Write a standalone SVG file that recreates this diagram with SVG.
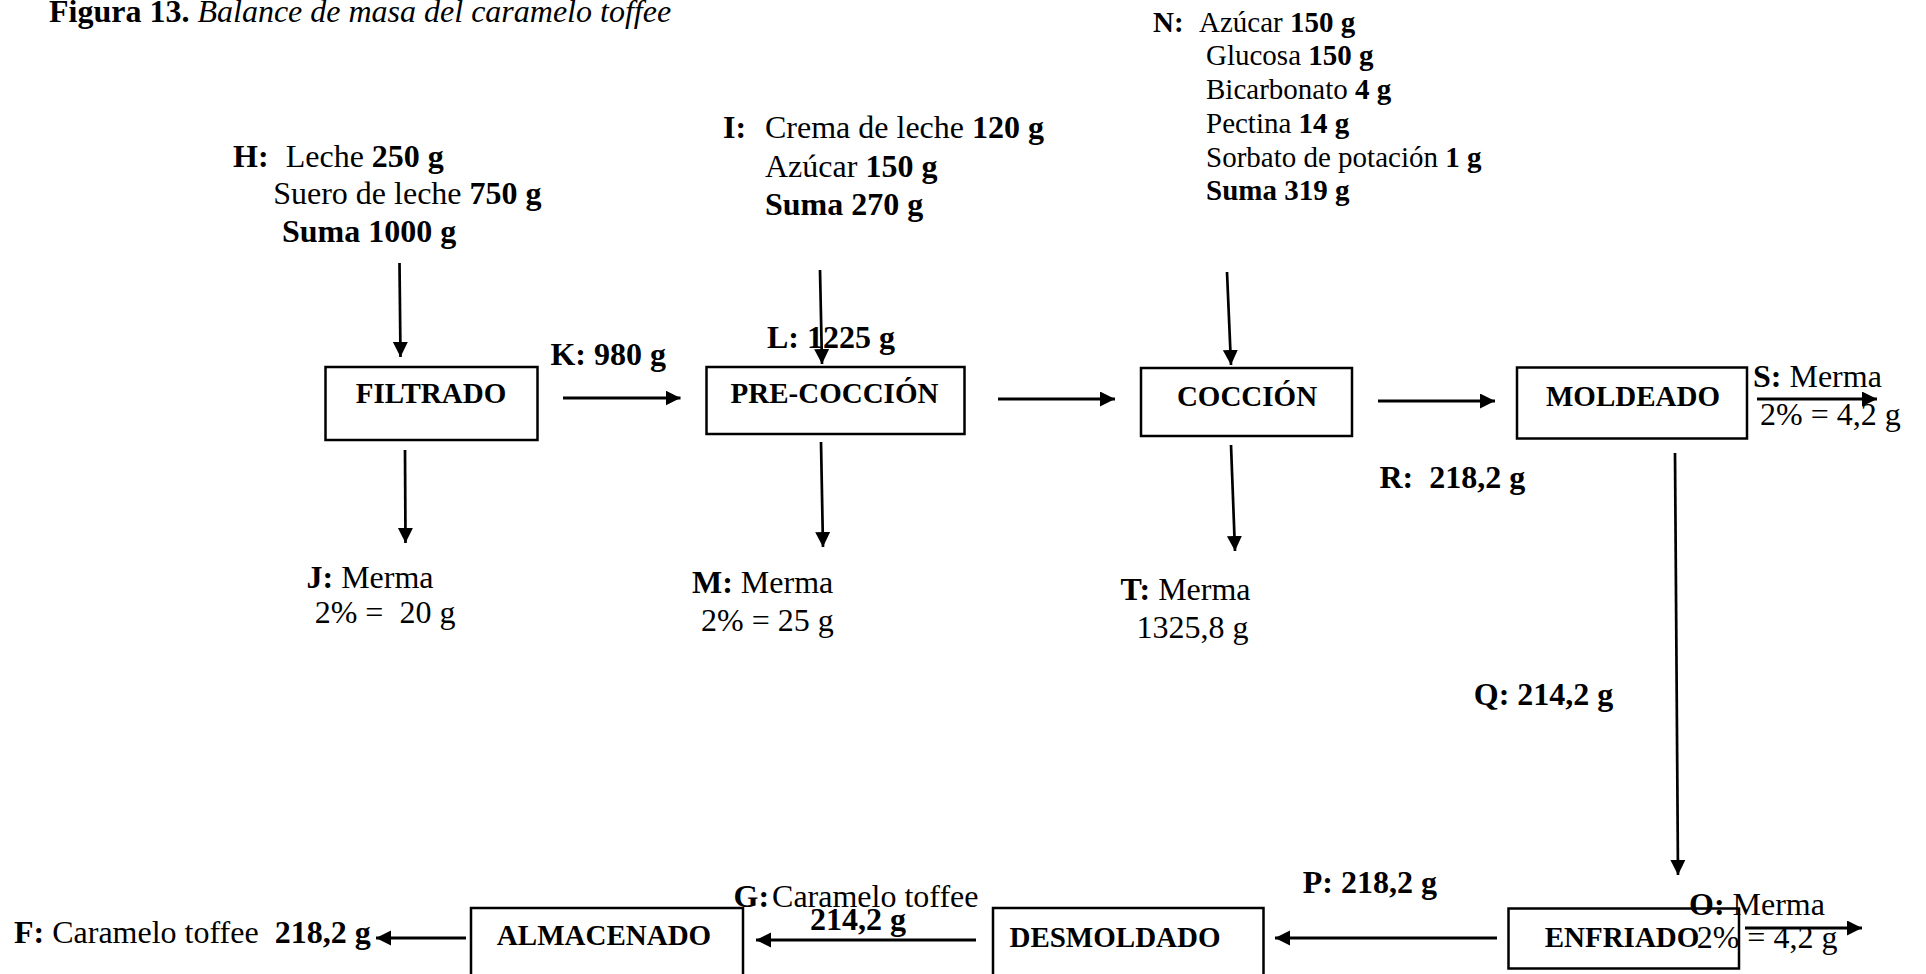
<svg xmlns="http://www.w3.org/2000/svg" width="1926" height="974" viewBox="0 0 1926 974">
<style>
text{font-family:"Liberation Serif","Times New Roman",serif;fill:#000;font-size:32px}
.b{font-weight:bold}
.i{font-style:italic}
.n{font-size:29px}
.box rect{fill:#fff;stroke:#000;stroke-width:2.5}
.box text{font-size:29px;font-weight:bold;text-anchor:middle}
.c line{stroke:#000;stroke-width:3;marker-end:url(#ah)}
.c line.v{stroke-width:2.7}
</style>
<defs>
<marker id="ah" markerUnits="userSpaceOnUse" markerWidth="16" markerHeight="16" refX="15" refY="7.5" orient="auto">
<path d="M0,0 L15,7.5 L0,15 Z" fill="#000"/>
</marker>
</defs>
<rect width="1926" height="974" fill="#fff"/>
<text x="49" y="21.7" xml:space="preserve"><tspan class="b">Figura 13.</tspan> <tspan class="i">Balance de masa del caramelo toffee</tspan></text>

<g id="connectors" class="c">
<line class="v" x1="399.5" y1="263" x2="400.5" y2="357"/>
<line class="v" x1="405" y1="450" x2="405.5" y2="543"/>
<line x1="563" y1="398" x2="680.5" y2="398"/>
<line class="v" x1="820" y1="270" x2="822" y2="364"/>
<line class="v" x1="821" y1="442" x2="823" y2="547"/>
<line x1="998" y1="399" x2="1115" y2="399"/>
<line class="v" x1="1227" y1="272" x2="1231" y2="365"/>
<line class="v" x1="1231" y1="445" x2="1235" y2="551"/>
<line x1="1378" y1="401" x2="1495" y2="401"/>
<line x1="1757" y1="399" x2="1877" y2="399"/>
<line class="v" x1="1675" y1="453" x2="1678" y2="875"/>
<line x1="1745" y1="928" x2="1862" y2="928"/>
<line x1="1497" y1="938" x2="1275" y2="938"/>
<line x1="976" y1="940" x2="756" y2="940"/>
<line x1="466" y1="938" x2="376" y2="938"/>
</g>

<g id="filtrado" class="box"><rect x="325.5" y="367" width="212" height="73"/><text x="431" y="403">FILTRADO</text></g>
<g id="precoccion" class="box"><rect x="706.5" y="367" width="258" height="67"/><text x="834.5" y="403">PRE-COCCIÓN</text></g>
<g id="coccion" class="box"><rect x="1141" y="368" width="211" height="68"/><text x="1247" y="405.7">COCCIÓN</text></g>
<g id="moldeado" class="box"><rect x="1517" y="367.5" width="230" height="71"/><text x="1633" y="405.7">MOLDEADO</text></g>
<g id="enfriado" class="box"><rect x="1508.5" y="908.5" width="230.5" height="60"/><text x="1622" y="946.7">ENFRIADO</text></g>
<g id="desmoldado" class="box"><rect x="993" y="908" width="270.5" height="90"/><text x="1115" y="947">DESMOLDADO</text></g>
<g id="almacenado" class="box"><rect x="471" y="908" width="272" height="90"/><text x="604" y="945">ALMACENADO</text></g>

<g id="label-H">
<text x="233" y="166.7"><tspan class="b">H:</tspan><tspan x="285.7">Leche </tspan><tspan class="b">250 g</tspan></text>
<text x="273.2" y="204">Suero de leche <tspan class="b">750 g</tspan></text>
<text x="282" y="241.7" class="b">Suma 1000 g</text>
</g>
<g id="label-I">
<text x="723" y="138.3"><tspan class="b">I:</tspan><tspan x="765">Crema de leche </tspan><tspan class="b">120 g</tspan></text>
<text x="765" y="176.7">Azúcar <tspan class="b">150 g</tspan></text>
<text x="765" y="215" class="b">Suma 270 g</text>
</g>
<g id="label-N">
<text class="n" x="1153" y="31.7"><tspan class="b">N:</tspan><tspan x="1199">Azúcar </tspan><tspan class="b">150 g</tspan></text>
<text class="n" x="1206" y="65">Glucosa <tspan class="b">150 g</tspan></text>
<text class="n" x="1206" y="99">Bicarbonato <tspan class="b">4 g</tspan></text>
<text class="n" x="1206" y="132.5">Pectina <tspan class="b">14 g</tspan></text>
<text class="n" x="1206" y="166.5">Sorbato de potación <tspan class="b">1 g</tspan></text>
<text class="n b" x="1206" y="200">Suma 319 g</text>
</g>
<text id="label-K" class="b" x="550.4" y="365">K: 980 g</text>
<text id="label-L" class="b" x="767" y="348.3">L: 1225 g</text>
<g id="label-J">
<text x="306.5" y="588.3"><tspan class="b">J:</tspan> Merma</text>
<text x="314.7" y="623.3" xml:space="preserve">2% =  20 g</text>
</g>
<g id="label-M">
<text x="692" y="593.3"><tspan class="b">M:</tspan> Merma</text>
<text x="701" y="630.7">2% = 25 g</text>
</g>
<g id="label-T">
<text x="1120.5" y="600"><tspan class="b">T:</tspan> Merma</text>
<text x="1136.6" y="638.3">1325,8 g</text>
</g>
<text id="label-R" class="b" x="1379.4" y="488.3" xml:space="preserve">R:  218,2 g</text>
<g id="label-S">
<text x="1753" y="386.7"><tspan class="b">S:</tspan> Merma</text>
<text x="1760" y="425">2% = 4,2 g</text>
</g>
<text id="label-Q" class="b" x="1473.8" y="705">Q: 214,2 g</text>
<text id="label-P" class="b" x="1302.8" y="893.3">P: 218,2 g</text>
<g id="label-O">
<text x="1689" y="915"><tspan class="b">O:</tspan> Merma</text>
<text x="1696.7" y="948">2% = 4,2 g</text>
</g>
<g id="label-G">
<text x="733.5" y="906.7"><tspan class="b">G:</tspan><tspan dx="3">Caramelo toffee</tspan></text>
<text x="810" y="930" class="b">214,2 g</text>
</g>
<text id="label-F" x="14" y="943.3" xml:space="preserve"><tspan class="b">F:</tspan> Caramelo toffee  <tspan class="b">218,2 g</tspan></text>
</svg>
